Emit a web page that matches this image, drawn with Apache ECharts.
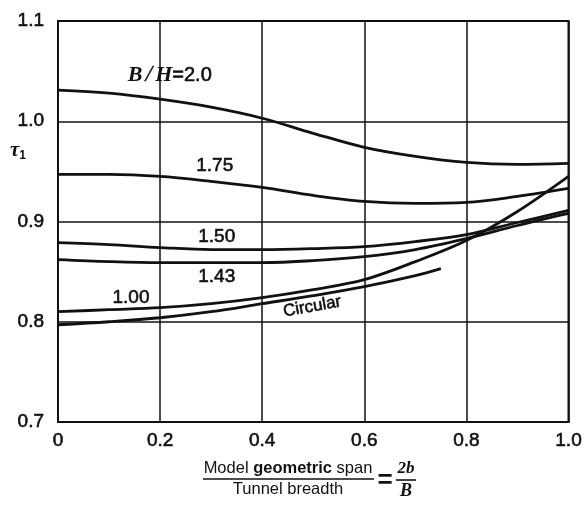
<!DOCTYPE html>
<html>
<head>
<meta charset="utf-8">
<script src="https://cdn.jsdelivr.net/npm/echarts@6/dist/echarts.min.js"></script>
<style>
  html, body { margin: 0; padding: 0; background: #fff; }
  #chart { width: 585px; height: 508px; }
</style>
</head>
<body>
<div id="chart"></div>
<script>
// Span ratio 2b/B sampled at these points
const spanRatio = [0, 0.1, 0.2, 0.3, 0.4, 0.5, 0.6, 0.7, 0.8, 0.9, 1.0];
const spanRatioCircular = [0, 0.1, 0.2, 0.3, 0.4, 0.5, 0.6, 0.7, 0.75];

// tau_1 for each tunnel shape (B/H)
const tauBH200 = [1.031, 1.028, 1.022, 1.014, 1.003, 0.988, 0.974, 0.965, 0.959, 0.957, 0.958];
const tauBH175 = [0.947, 0.947, 0.945, 0.940, 0.934, 0.926, 0.920, 0.918, 0.919, 0.925, 0.933];
const tauBH150 = [0.879, 0.877, 0.874, 0.872, 0.872, 0.873, 0.875, 0.880, 0.887, 0.899, 0.911];
const tauBH143 = [0.862, 0.860, 0.859, 0.859, 0.859, 0.861, 0.865, 0.872, 0.883, 0.896, 0.908];
const tauBH100 = [0.810, 0.812, 0.814, 0.818, 0.824, 0.832, 0.842, 0.860, 0.881, 0.910, 0.945];
const tauCircular = [0.797, 0.800, 0.804, 0.810, 0.818, 0.826, 0.835, 0.846, 0.853];

const xTicks = ['0', '0.2', '0.4', '0.6', '0.8', '1.0'];
const yTicks = ['0.7', '0.8', '0.9', '1.0', '1.1'];

const ink = '#111';
const font = '"Liberation Sans", Arial, sans-serif';
const serif = '"Liberation Serif", "DejaVu Serif", serif';
// a thin outline in the text colour gives the labels a medium weight
const medium = { textBorderColor: ink, textBorderWidth: 0.6 };

function pairs(xs, ys) { return xs.map((x, i) => [x, ys[i]]); }

function curve(name, xs, ys, label) {
  return {
    name: name,
    type: 'line',
    smooth: 0.35,
    showSymbol: false,
    silent: true,
    data: pairs(xs, ys),
    lineStyle: { color: ink, width: 2.8 },
    markPoint: {
      symbol: 'circle',
      symbolSize: 0,
      silent: true,
      data: [{ coord: label.at, value: name }],
      label: Object.assign({
        show: true,
        position: 'inside',
        color: ink,
        fontFamily: font,
        fontSize: 19
      }, medium, label.style || {})
    }
  };
}

const chart = echarts.init(document.getElementById('chart'));
chart.setOption({
  animation: false,
  backgroundColor: '#fff',
  grid: {
    left: 58, right: 15, top: 21, bottom: 86,
    show: true, borderColor: ink, borderWidth: 2, backgroundColor: 'transparent'
  },
  xAxis: {
    type: 'value', min: 0, max: 1, interval: 0.2,
    axisLine: { show: true, lineStyle: { color: ink, width: 2 } },
    axisTick: { show: false },
    splitLine: { show: true, lineStyle: { color: ink, width: 1.5 } },
    axisLabel: Object.assign({
      color: ink, fontFamily: font, fontSize: 19, margin: 9,
      formatter: v => xTicks[Math.round(v / 0.2)]
    }, medium)
  },
  yAxis: {
    type: 'value', min: 0.7, max: 1.1, interval: 0.1,
    axisLine: { show: true, lineStyle: { color: ink, width: 2 } },
    axisTick: { show: false },
    splitLine: { show: true, lineStyle: { color: ink, width: 1.5 } },
    axisLabel: Object.assign({
      color: ink, fontFamily: font, fontSize: 19, margin: 14,
      formatter: v => yTicks[Math.round((v - 0.7) / 0.1)]
    }, medium)
  },
  series: [
    curve('B/H=2.0', spanRatio, tauBH200, {
      at: [0.219, 1.046],
      style: {
        formatter: '{i|B}{s|/}{i|H}{n|=2.0}',
        rich: {
          i: { fontFamily: serif, fontStyle: 'italic', fontWeight: 'bold', fontSize: 22, color: ink, textBorderWidth: 0 },
          s: { fontFamily: serif, fontStyle: 'italic', fontSize: 24, color: ink, padding: [0, 3, 0, 3], textBorderWidth: 0.4, textBorderColor: ink },
          n: { fontFamily: font, fontSize: 20, color: ink, textBorderWidth: 0.6, textBorderColor: ink }
        }
      }
    }),
    curve('1.75', spanRatio, tauBH175, { at: [0.307, 0.956] }),
    curve('1.50', spanRatio, tauBH150, { at: [0.311, 0.885] }),
    curve('1.43', spanRatio, tauBH143, { at: [0.311, 0.845] }),
    curve('1.00', spanRatio, tauBH100, { at: [0.143, 0.824] }),
    curve('Circular', spanRatioCircular, tauCircular, {
      at: [0.498, 0.815],
      style: { rotate: 10, fontSize: 17 }
    })
  ],
  graphic: [
    {
      type: 'text', left: 10, top: 140,
      style: {
        text: '{t|τ}{s|1}',
        rich: {
          t: { fontFamily: serif, fontStyle: 'italic', fontWeight: 'bold', fontSize: 21, fill: ink },
          s: { fontFamily: font, fontWeight: 'bold', fontSize: 12, fill: ink, padding: [10, 0, 0, 0] }
        }
      }
    },
    {
      type: 'text', x: 288, y: 477,
      style: {
        text: '{a|Model }{b|geometric}{a| span}',
        align: 'center', verticalAlign: 'bottom',
        rich: {
          a: { fontFamily: font, fontSize: 16.5, fill: ink },
          b: { fontFamily: font, fontSize: 16.5, fontWeight: 'bold', fill: ink }
        }
      }
    },
    {
      type: 'line',
      shape: { x1: 203, y1: 479, x2: 374, y2: 479 },
      style: { stroke: ink, lineWidth: 1.6 }
    },
    {
      type: 'text', x: 288, y: 481,
      style: {
        text: 'Tunnel breadth', align: 'center', verticalAlign: 'top',
        fontFamily: font, fontSize: 16.5, fill: ink
      }
    },
    {
      type: 'text', x: 385, y: 481,
      style: {
        text: '=', align: 'center', verticalAlign: 'middle',
        fontFamily: font, fontSize: 26, fontWeight: 'bold', fill: ink
      }
    },
    {
      type: 'text', x: 406, y: 477,
      style: {
        text: '2b', align: 'center', verticalAlign: 'bottom',
        fontFamily: serif, fontStyle: 'italic', fontWeight: 'bold', fontSize: 17, fill: ink
      }
    },
    {
      type: 'line',
      shape: { x1: 396, y1: 480, x2: 416, y2: 480 },
      style: { stroke: ink, lineWidth: 1.6 }
    },
    {
      type: 'text', x: 406, y: 482,
      style: {
        text: 'B', align: 'center', verticalAlign: 'top',
        fontFamily: serif, fontStyle: 'italic', fontWeight: 'bold', fontSize: 18, fill: ink
      }
    }
  ]
});
</script>
</body>
</html>
